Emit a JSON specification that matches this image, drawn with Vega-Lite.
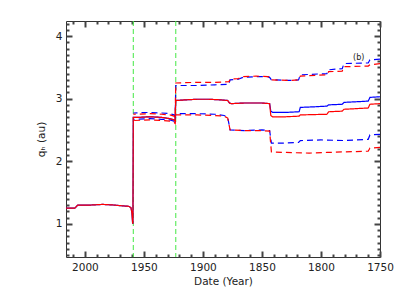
{
  "$schema": "https://vega.github.io/schema/vega-lite/v6.json",
  "width": 314,
  "height": 236,
  "autosize": {"type": "none"},
  "padding": {"left": 66, "top": 21, "right": 19, "bottom": 42},
  "background": "white",
  "config": {
    "view": {"stroke": "#333333", "strokeWidth": 1},
    "axis": {"grid": false, "domain": false, "labelFlush": false, "labelFont": "DejaVu Sans", "titleFont": "DejaVu Sans"}
  },
  "datasets": {
    "series": [
      {"year": 2016, "q": 1.25, "model": "B", "band": "central"},
      {"year": 2008.5, "q": 1.25, "model": "B", "band": "central"},
      {"year": 2006, "q": 1.30, "model": "B", "band": "central"},
      {"year": 1995, "q": 1.30, "model": "B", "band": "central"},
      {"year": 1985, "q": 1.31, "model": "B", "band": "central"},
      {"year": 1975, "q": 1.30, "model": "B", "band": "central"},
      {"year": 1970, "q": 1.29, "model": "B", "band": "central"},
      {"year": 1963, "q": 1.28, "model": "B", "band": "central"},
      {"year": 1961, "q": 1.26, "model": "B", "band": "central"},
      {"year": 1960.2, "q": 1.18, "model": "B", "band": "central"},
      {"year": 1959.6, "q": 1.02, "model": "B", "band": "central"},
      {"year": 1959.3, "q": 1.0, "model": "B", "band": "central"},
      {"year": 1959, "q": 2.70, "model": "B", "band": "central"},
      {"year": 1955, "q": 2.70, "model": "B", "band": "central"},
      {"year": 1945, "q": 2.71, "model": "B", "band": "central"},
      {"year": 1935, "q": 2.70, "model": "B", "band": "central"},
      {"year": 1928, "q": 2.68, "model": "B", "band": "central"},
      {"year": 1924.5, "q": 2.66, "model": "B", "band": "central"},
      {"year": 1923.6, "q": 2.64, "model": "B", "band": "central"},
      {"year": 1923, "q": 2.97, "model": "B", "band": "central"},
      {"year": 1915, "q": 2.98, "model": "B", "band": "central"},
      {"year": 1905, "q": 2.99, "model": "B", "band": "central"},
      {"year": 1895, "q": 2.99, "model": "B", "band": "central"},
      {"year": 1885, "q": 2.98, "model": "B", "band": "central"},
      {"year": 1879, "q": 2.97, "model": "B", "band": "central"},
      {"year": 1877.5, "q": 2.93, "model": "B", "band": "central"},
      {"year": 1876, "q": 2.92, "model": "B", "band": "central"},
      {"year": 1865, "q": 2.93, "model": "B", "band": "central"},
      {"year": 1850, "q": 2.93, "model": "B", "band": "central"},
      {"year": 1843.5, "q": 2.92, "model": "B", "band": "central"},
      {"year": 1842.5, "q": 2.80, "model": "B", "band": "central"},
      {"year": 1841, "q": 2.78, "model": "B", "band": "central"},
      {"year": 1830, "q": 2.78, "model": "B", "band": "central"},
      {"year": 1818.5, "q": 2.79, "model": "B", "band": "central"},
      {"year": 1817.5, "q": 2.86, "model": "B", "band": "central"},
      {"year": 1805, "q": 2.87, "model": "B", "band": "central"},
      {"year": 1795, "q": 2.88, "model": "B", "band": "central"},
      {"year": 1793.5, "q": 2.90, "model": "B", "band": "central"},
      {"year": 1782, "q": 2.91, "model": "B", "band": "central"},
      {"year": 1780.5, "q": 2.94, "model": "B", "band": "central"},
      {"year": 1770, "q": 2.95, "model": "B", "band": "central"},
      {"year": 1760, "q": 2.96, "model": "B", "band": "central"},
      {"year": 1758.5, "q": 3.02, "model": "B", "band": "central"},
      {"year": 1750, "q": 3.03, "model": "B", "band": "central"},
      {"year": 1959, "q": 2.77, "model": "B", "band": "upper"},
      {"year": 1945, "q": 2.78, "model": "B", "band": "upper"},
      {"year": 1935, "q": 2.77, "model": "B", "band": "upper"},
      {"year": 1928, "q": 2.76, "model": "B", "band": "upper"},
      {"year": 1924.5, "q": 2.74, "model": "B", "band": "upper"},
      {"year": 1923.5, "q": 2.72, "model": "B", "band": "upper"},
      {"year": 1923, "q": 3.21, "model": "B", "band": "upper"},
      {"year": 1905, "q": 3.21, "model": "B", "band": "upper"},
      {"year": 1890, "q": 3.22, "model": "B", "band": "upper"},
      {"year": 1878, "q": 3.23, "model": "B", "band": "upper"},
      {"year": 1877, "q": 3.30, "model": "B", "band": "upper"},
      {"year": 1870, "q": 3.31, "model": "B", "band": "upper"},
      {"year": 1866, "q": 3.34, "model": "B", "band": "upper"},
      {"year": 1855, "q": 3.35, "model": "B", "band": "upper"},
      {"year": 1845, "q": 3.35, "model": "B", "band": "upper"},
      {"year": 1843.5, "q": 3.34, "model": "B", "band": "upper"},
      {"year": 1842, "q": 3.30, "model": "B", "band": "upper"},
      {"year": 1825, "q": 3.29, "model": "B", "band": "upper"},
      {"year": 1819, "q": 3.30, "model": "B", "band": "upper"},
      {"year": 1817.5, "q": 3.38, "model": "B", "band": "upper"},
      {"year": 1795, "q": 3.40, "model": "B", "band": "upper"},
      {"year": 1793.5, "q": 3.46, "model": "B", "band": "upper"},
      {"year": 1782, "q": 3.48, "model": "B", "band": "upper"},
      {"year": 1780.5, "q": 3.56, "model": "B", "band": "upper"},
      {"year": 1760, "q": 3.57, "model": "B", "band": "upper"},
      {"year": 1758.5, "q": 3.62, "model": "B", "band": "upper"},
      {"year": 1750, "q": 3.63, "model": "B", "band": "upper"},
      {"year": 1959, "q": 2.67, "model": "B", "band": "lower"},
      {"year": 1945, "q": 2.68, "model": "B", "band": "lower"},
      {"year": 1935, "q": 2.67, "model": "B", "band": "lower"},
      {"year": 1928, "q": 2.66, "model": "B", "band": "lower"},
      {"year": 1924.5, "q": 2.64, "model": "B", "band": "lower"},
      {"year": 1923.5, "q": 2.62, "model": "B", "band": "lower"},
      {"year": 1923, "q": 2.76, "model": "B", "band": "lower"},
      {"year": 1905, "q": 2.76, "model": "B", "band": "lower"},
      {"year": 1890, "q": 2.75, "model": "B", "band": "lower"},
      {"year": 1882, "q": 2.73, "model": "B", "band": "lower"},
      {"year": 1879, "q": 2.70, "model": "B", "band": "lower"},
      {"year": 1877, "q": 2.50, "model": "B", "band": "lower"},
      {"year": 1865, "q": 2.49, "model": "B", "band": "lower"},
      {"year": 1850, "q": 2.50, "model": "B", "band": "lower"},
      {"year": 1843.5, "q": 2.49, "model": "B", "band": "lower"},
      {"year": 1842, "q": 2.29, "model": "B", "band": "lower"},
      {"year": 1830, "q": 2.29, "model": "B", "band": "lower"},
      {"year": 1819, "q": 2.30, "model": "B", "band": "lower"},
      {"year": 1817.5, "q": 2.33, "model": "B", "band": "lower"},
      {"year": 1800, "q": 2.34, "model": "B", "band": "lower"},
      {"year": 1780, "q": 2.33, "model": "B", "band": "lower"},
      {"year": 1760, "q": 2.35, "model": "B", "band": "lower"},
      {"year": 1758.5, "q": 2.42, "model": "B", "band": "lower"},
      {"year": 1750, "q": 2.43, "model": "B", "band": "lower"},
      {"year": 2016, "q": 1.25, "model": "R", "band": "central"},
      {"year": 2008.5, "q": 1.25, "model": "R", "band": "central"},
      {"year": 2006, "q": 1.30, "model": "R", "band": "central"},
      {"year": 1995, "q": 1.30, "model": "R", "band": "central"},
      {"year": 1985, "q": 1.31, "model": "R", "band": "central"},
      {"year": 1975, "q": 1.30, "model": "R", "band": "central"},
      {"year": 1970, "q": 1.29, "model": "R", "band": "central"},
      {"year": 1963, "q": 1.28, "model": "R", "band": "central"},
      {"year": 1961, "q": 1.26, "model": "R", "band": "central"},
      {"year": 1960.2, "q": 1.18, "model": "R", "band": "central"},
      {"year": 1959.6, "q": 1.02, "model": "R", "band": "central"},
      {"year": 1959.3, "q": 1.0, "model": "R", "band": "central"},
      {"year": 1959, "q": 2.70, "model": "R", "band": "central"},
      {"year": 1955, "q": 2.70, "model": "R", "band": "central"},
      {"year": 1945, "q": 2.71, "model": "R", "band": "central"},
      {"year": 1935, "q": 2.70, "model": "R", "band": "central"},
      {"year": 1928, "q": 2.68, "model": "R", "band": "central"},
      {"year": 1924.5, "q": 2.66, "model": "R", "band": "central"},
      {"year": 1923.6, "q": 2.64, "model": "R", "band": "central"},
      {"year": 1923, "q": 2.97, "model": "R", "band": "central"},
      {"year": 1915, "q": 2.98, "model": "R", "band": "central"},
      {"year": 1905, "q": 2.99, "model": "R", "band": "central"},
      {"year": 1895, "q": 2.99, "model": "R", "band": "central"},
      {"year": 1885, "q": 2.98, "model": "R", "band": "central"},
      {"year": 1879, "q": 2.97, "model": "R", "band": "central"},
      {"year": 1877.5, "q": 2.93, "model": "R", "band": "central"},
      {"year": 1876, "q": 2.92, "model": "R", "band": "central"},
      {"year": 1865, "q": 2.93, "model": "R", "band": "central"},
      {"year": 1850, "q": 2.93, "model": "R", "band": "central"},
      {"year": 1843.5, "q": 2.92, "model": "R", "band": "central"},
      {"year": 1842.5, "q": 2.73, "model": "R", "band": "central"},
      {"year": 1841, "q": 2.71, "model": "R", "band": "central"},
      {"year": 1830, "q": 2.71, "model": "R", "band": "central"},
      {"year": 1818.5, "q": 2.72, "model": "R", "band": "central"},
      {"year": 1817.5, "q": 2.74, "model": "R", "band": "central"},
      {"year": 1795, "q": 2.75, "model": "R", "band": "central"},
      {"year": 1793.5, "q": 2.79, "model": "R", "band": "central"},
      {"year": 1782, "q": 2.80, "model": "R", "band": "central"},
      {"year": 1780.5, "q": 2.83, "model": "R", "band": "central"},
      {"year": 1760, "q": 2.85, "model": "R", "band": "central"},
      {"year": 1758.5, "q": 2.91, "model": "R", "band": "central"},
      {"year": 1750, "q": 2.92, "model": "R", "band": "central"},
      {"year": 1959, "q": 2.75, "model": "R", "band": "upper"},
      {"year": 1945, "q": 2.76, "model": "R", "band": "upper"},
      {"year": 1935, "q": 2.75, "model": "R", "band": "upper"},
      {"year": 1928, "q": 2.74, "model": "R", "band": "upper"},
      {"year": 1924.5, "q": 2.72, "model": "R", "band": "upper"},
      {"year": 1923.5, "q": 2.70, "model": "R", "band": "upper"},
      {"year": 1923, "q": 3.25, "model": "R", "band": "upper"},
      {"year": 1905, "q": 3.26, "model": "R", "band": "upper"},
      {"year": 1890, "q": 3.26, "model": "R", "band": "upper"},
      {"year": 1878, "q": 3.27, "model": "R", "band": "upper"},
      {"year": 1877, "q": 3.31, "model": "R", "band": "upper"},
      {"year": 1870, "q": 3.32, "model": "R", "band": "upper"},
      {"year": 1866, "q": 3.35, "model": "R", "band": "upper"},
      {"year": 1855, "q": 3.36, "model": "R", "band": "upper"},
      {"year": 1845, "q": 3.35, "model": "R", "band": "upper"},
      {"year": 1843.5, "q": 3.34, "model": "R", "band": "upper"},
      {"year": 1842, "q": 3.30, "model": "R", "band": "upper"},
      {"year": 1825, "q": 3.29, "model": "R", "band": "upper"},
      {"year": 1819, "q": 3.30, "model": "R", "band": "upper"},
      {"year": 1817.5, "q": 3.36, "model": "R", "band": "upper"},
      {"year": 1795, "q": 3.38, "model": "R", "band": "upper"},
      {"year": 1793.5, "q": 3.43, "model": "R", "band": "upper"},
      {"year": 1782, "q": 3.44, "model": "R", "band": "upper"},
      {"year": 1780.5, "q": 3.51, "model": "R", "band": "upper"},
      {"year": 1760, "q": 3.52, "model": "R", "band": "upper"},
      {"year": 1758.5, "q": 3.54, "model": "R", "band": "upper"},
      {"year": 1750, "q": 3.56, "model": "R", "band": "upper"},
      {"year": 1959, "q": 2.65, "model": "R", "band": "lower"},
      {"year": 1945, "q": 2.66, "model": "R", "band": "lower"},
      {"year": 1935, "q": 2.65, "model": "R", "band": "lower"},
      {"year": 1928, "q": 2.64, "model": "R", "band": "lower"},
      {"year": 1924.5, "q": 2.62, "model": "R", "band": "lower"},
      {"year": 1923.5, "q": 2.60, "model": "R", "band": "lower"},
      {"year": 1923, "q": 2.74, "model": "R", "band": "lower"},
      {"year": 1905, "q": 2.74, "model": "R", "band": "lower"},
      {"year": 1890, "q": 2.73, "model": "R", "band": "lower"},
      {"year": 1882, "q": 2.72, "model": "R", "band": "lower"},
      {"year": 1879, "q": 2.69, "model": "R", "band": "lower"},
      {"year": 1877, "q": 2.50, "model": "R", "band": "lower"},
      {"year": 1865, "q": 2.49, "model": "R", "band": "lower"},
      {"year": 1850, "q": 2.49, "model": "R", "band": "lower"},
      {"year": 1843.5, "q": 2.48, "model": "R", "band": "lower"},
      {"year": 1842, "q": 2.15, "model": "R", "band": "lower"},
      {"year": 1830, "q": 2.14, "model": "R", "band": "lower"},
      {"year": 1810, "q": 2.13, "model": "R", "band": "lower"},
      {"year": 1795, "q": 2.14, "model": "R", "band": "lower"},
      {"year": 1780, "q": 2.15, "model": "R", "band": "lower"},
      {"year": 1760, "q": 2.16, "model": "R", "band": "lower"},
      {"year": 1758.5, "q": 2.21, "model": "R", "band": "lower"},
      {"year": 1750, "q": 2.22, "model": "R", "band": "lower"}
    ],
    "epochs": [{"year": 1959}, {"year": 1923}],
    "labels": [{"year": 1768, "q": 3.65, "text": "(b)"}]
  },
  "resolve": {"axis": {"x": "independent", "y": "independent"}},
  "layer": [
    {
      "data": {"name": "labels"},
      "mark": {"type": "text", "font": "DejaVu Sans", "fontSize": 8, "color": "#222222", "align": "center", "baseline": "middle"},
      "encoding": {
        "x": {
          "field": "year", "type": "quantitative",
          "scale": {"domain": [2016, 1750], "nice": false, "zero": false},
          "axis": {"orient": "bottom", "values": [2000, 1950, 1900, 1850, 1800, 1750], "format": "d", "tickSize": 6, "offset": -6, "tickColor": "#444444", "tickWidth": 2, "labelPadding": 5, "labelFontSize": 10.5, "labelColor": "#222222", "title": "Date (Year)", "titleFontSize": 10.5, "titleFontWeight": "normal", "titleColor": "#222222", "titlePadding": 4}
        },
        "y": {
          "field": "q", "type": "quantitative",
          "scale": {"domain": [0.47, 4.24], "nice": false, "zero": false},
          "axis": {"orient": "left", "values": [1, 2, 3, 4], "format": "d", "tickSize": 6, "offset": -6, "tickColor": "#444444", "tickWidth": 2, "labelPadding": 4, "labelFontSize": 10.5, "labelColor": "#222222", "title": "qₕ (au)", "titleFontSize": 10.5, "titleFontWeight": "normal", "titleColor": "#222222", "titlePadding": 9}
        },
        "text": {"field": "text", "type": "nominal"}
      }
    },
    {
      "data": {"name": "labels"},
      "mark": {"type": "point", "opacity": 0},
      "encoding": {
        "x": {
          "field": "year", "type": "quantitative",
          "scale": {"domain": [2016, 1750], "nice": false, "zero": false},
          "axis": {"orient": "top", "values": [2000, 1950, 1900, 1850, 1800, 1750], "labels": false, "tickSize": 6, "offset": -6, "tickColor": "#444444", "tickWidth": 2, "title": null}
        },
        "y": {
          "field": "q", "type": "quantitative",
          "scale": {"domain": [0.47, 4.24], "nice": false, "zero": false},
          "axis": {"orient": "right", "values": [1, 2, 3, 4], "labels": false, "tickSize": 6, "offset": -6, "tickColor": "#444444", "tickWidth": 2, "title": null}
        }
      }
    },
    {
      "data": {"name": "labels"},
      "mark": {"type": "point", "opacity": 0},
      "encoding": {
        "x": {
          "field": "year", "type": "quantitative",
          "scale": {"domain": [2016, 1750], "nice": false, "zero": false},
          "axis": {"orient": "bottom", "values": [2010, 1990, 1980, 1970, 1960, 1940, 1930, 1920, 1910, 1890, 1880, 1870, 1860, 1840, 1830, 1820, 1810, 1790, 1780, 1770, 1760], "labels": false, "tickSize": 3, "offset": -3, "tickColor": "#444444", "tickWidth": 2, "title": null}
        },
        "y": {
          "field": "q", "type": "quantitative",
          "scale": {"domain": [0.47, 4.24], "nice": false, "zero": false},
          "axis": {"orient": "left", "values": [0.5, 0.6, 0.7, 0.8, 0.9, 1.1, 1.2, 1.3, 1.4, 1.5, 1.6, 1.7, 1.8, 1.9, 2.1, 2.2, 2.3, 2.4, 2.5, 2.6, 2.7, 2.8, 2.9, 3.1, 3.2, 3.3, 3.4, 3.5, 3.6, 3.7, 3.8, 3.9, 4.1, 4.2], "labels": false, "tickSize": 3, "offset": -3, "tickColor": "#444444", "tickWidth": 2, "title": null}
        }
      }
    },
    {
      "data": {"name": "labels"},
      "mark": {"type": "point", "opacity": 0},
      "encoding": {
        "x": {
          "field": "year", "type": "quantitative",
          "scale": {"domain": [2016, 1750], "nice": false, "zero": false},
          "axis": {"orient": "top", "values": [2010, 1990, 1980, 1970, 1960, 1940, 1930, 1920, 1910, 1890, 1880, 1870, 1860, 1840, 1830, 1820, 1810, 1790, 1780, 1770, 1760], "labels": false, "tickSize": 3, "offset": -3, "tickColor": "#444444", "tickWidth": 2, "title": null}
        },
        "y": {
          "field": "q", "type": "quantitative",
          "scale": {"domain": [0.47, 4.24], "nice": false, "zero": false},
          "axis": {"orient": "right", "values": [0.5, 0.6, 0.7, 0.8, 0.9, 1.1, 1.2, 1.3, 1.4, 1.5, 1.6, 1.7, 1.8, 1.9, 2.1, 2.2, 2.3, 2.4, 2.5, 2.6, 2.7, 2.8, 2.9, 3.1, 3.2, 3.3, 3.4, 3.5, 3.6, 3.7, 3.8, 3.9, 4.1, 4.2], "labels": false, "tickSize": 3, "offset": -3, "tickColor": "#444444", "tickWidth": 2, "title": null}
        }
      }
    },
    {
      "data": {"name": "epochs"},
      "mark": {"type": "rule", "color": "#44e844", "strokeWidth": 1, "strokeDash": [5, 3]},
      "encoding": {
        "x": {
          "field": "year", "type": "quantitative",
          "scale": {"domain": [2016, 1750], "nice": false, "zero": false},
          "axis": null
        }
      }
    },
    {
      "data": {"name": "series"},
      "mark": {"type": "line", "strokeWidth": 1.2, "interpolate": "linear"},
      "encoding": {
        "x": {
          "field": "year", "type": "quantitative",
          "scale": {"domain": [2016, 1750], "nice": false, "zero": false},
          "axis": null
        },
        "y": {
          "field": "q", "type": "quantitative",
          "scale": {"domain": [0.47, 4.24], "nice": false, "zero": false},
          "axis": null
        },
        "color": {"field": "model", "type": "nominal", "scale": {"domain": ["B", "R"], "range": ["#0000ff", "#ff0000"]}, "legend": null},
        "strokeDash": {"field": "band", "type": "nominal", "scale": {"domain": ["central", "upper", "lower"], "range": [[1, 0], [6, 4], [6, 4]]}, "legend": null},
        "order": {"field": "year", "sort": "ascending"}
      }
    }
  ]
}
